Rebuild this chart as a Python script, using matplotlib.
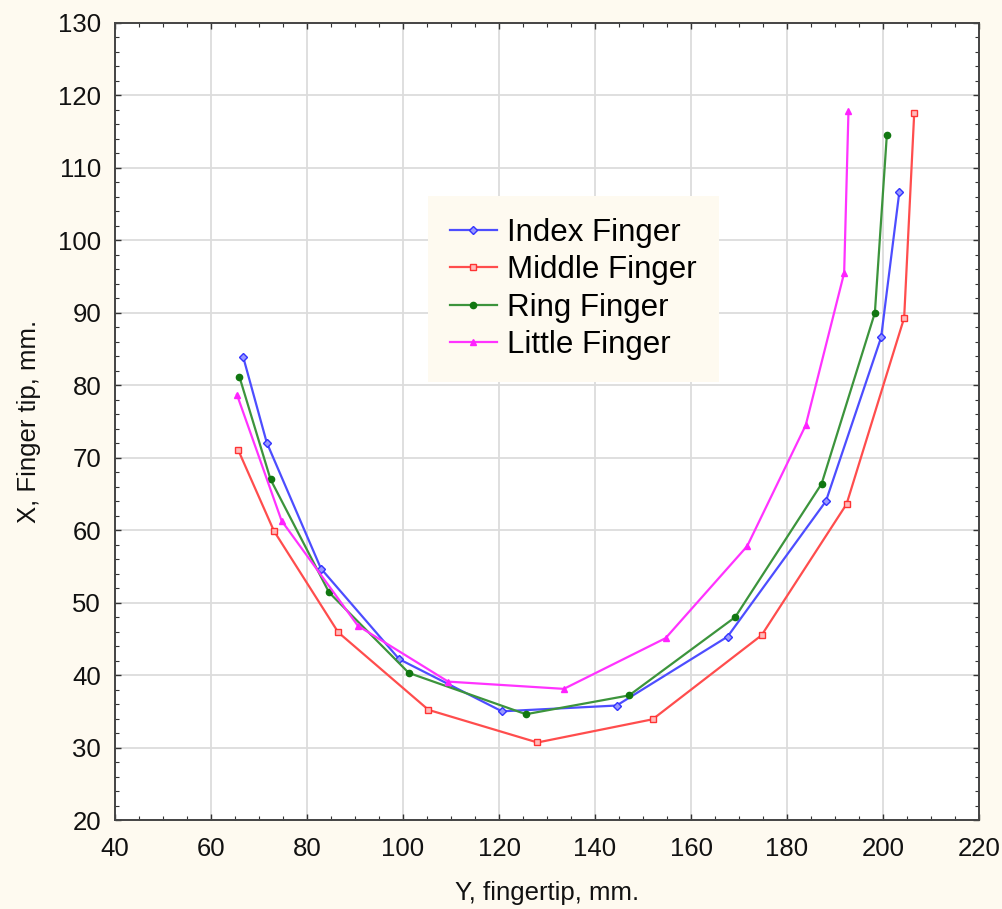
import matplotlib
matplotlib.use("Agg")
import matplotlib.pyplot as plt
from matplotlib.ticker import MultipleLocator

plt.rcParams['font.family'] = ['Liberation Sans', 'DejaVu Sans']

index_x = [66.7, 71.6, 82.9, 99.2, 120.6, 144.5, 167.6, 188.1, 199.6, 203.4]
index_y = [83.9, 72.1, 54.7, 42.2, 35.0, 35.8, 45.3, 64.0, 86.6, 106.7]

middle_x = [65.7, 73.1, 86.5, 105.3, 128.0, 152.0, 174.7, 192.4, 204.4, 206.5]
middle_y = [71.0, 59.9, 45.9, 35.2, 30.7, 33.9, 45.5, 63.6, 89.3, 117.6]

ring_x = [65.9, 72.4, 84.6, 101.2, 125.6, 147.1, 169.2, 187.2, 198.3, 200.8]
ring_y = [81.2, 67.0, 51.4, 40.3, 34.6, 37.2, 48.0, 66.4, 90.0, 114.6]

little_x = [65.4, 74.7, 90.6, 109.4, 133.5, 154.7, 171.7, 183.9, 191.9, 192.8]
little_y = [78.7, 61.3, 46.8, 39.1, 38.1, 45.1, 57.8, 74.5, 95.5, 117.8]

labels = ["Index Finger", "Middle Finger", "Ring Finger", "Little Finger"]
xlabel = "Y, fingertip, mm."
ylabel = "X, Finger tip, mm."

bg = '#FEFAF0'
fig = plt.figure(figsize=(10.03, 9.09), dpi=100, facecolor=bg)
ax = fig.add_axes([0.1147, 0.0979, 0.8614, 0.8768])
ax.set_facecolor('white')

ax.plot(index_x, index_y, color='#4D4DFF', lw=1.6, marker='D', ms=4,
        mfc='#9999FF', mec='#3333FF', mew=1.0, label=labels[0])
ax.plot(middle_x, middle_y, color='#FF4D4D', lw=1.6, marker='s', ms=4.5,
        mfc='#FFBBBB', mec='#FF3333', mew=1.0, label=labels[1])
ax.plot(ring_x, ring_y, color='#3C943C', lw=1.6, marker='o', ms=4.5,
        mfc='#117711', mec='#117711', label=labels[2])
ax.plot(little_x, little_y, color='#FF33FF', lw=1.6, marker='^', ms=4.5,
        mfc='#FF22FF', mec='#FF22FF', label=labels[3])

ax.set_xlim(40, 220)
ax.set_ylim(20, 130)
ax.xaxis.set_major_locator(MultipleLocator(20))
ax.xaxis.set_minor_locator(MultipleLocator(5))
ax.yaxis.set_major_locator(MultipleLocator(10))
ax.yaxis.set_minor_locator(MultipleLocator(2))

ax.grid(True, which='major', color='#DCDCDC', lw=1.3)
ax.set_axisbelow(True)
ax.tick_params(which='both', direction='in', top=True, right=True, colors='#333333',
               labelcolor='#111111')
ax.tick_params(which='major', length=4, width=1, labelsize=18.5)
ax.tick_params(axis='x', which='major', pad=12)
ax.tick_params(axis='y', which='major', pad=10)
ax.tick_params(which='minor', length=3, width=0.8)
for s in ax.spines.values():
    s.set_color('#444444')
    s.set_linewidth(1.4)

ax.set_xlabel(xlabel, fontsize=18.5, color='#111111', labelpad=14.5)
ax.set_ylabel(ylabel, fontsize=18.5, color='#111111', labelpad=12)

leg = ax.legend(loc='upper left', bbox_to_anchor=(0.362, 0.783), borderaxespad=0,
                fontsize=22.5, frameon=True, facecolor=bg, edgecolor=bg, framealpha=1,
                fancybox=False, handlelength=1.5, handletextpad=0.35, labelspacing=0.24,
                borderpad=0.7)
leg.get_frame().set_linewidth(0)

fig.savefig('out.png', dpi=100, facecolor=bg)
